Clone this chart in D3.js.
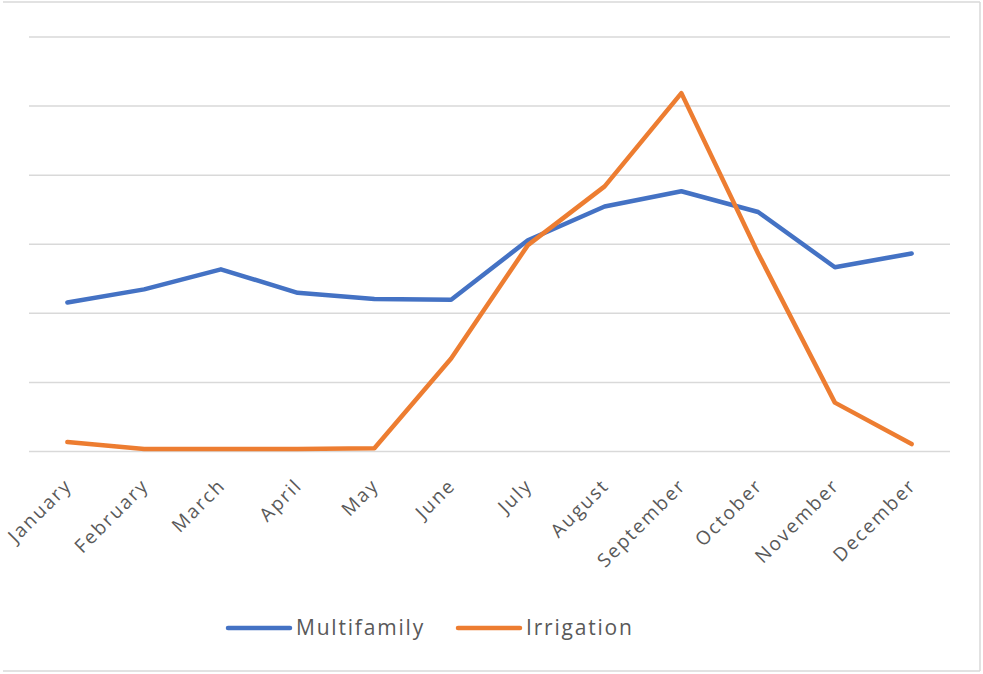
<!DOCTYPE html>
<html>
<head>
<meta charset="utf-8">
<script src="https://cdn.jsdelivr.net/npm/d3@7"></script>
<style>
    body { margin: 0; background: #fff; }
    svg { display: block; }
    .grid line { stroke: #d9d9d9; stroke-width: 1.5; }
    .xaxis text { fill: #595959; font-family: "Open Sans", sans-serif; font-size: 19px; letter-spacing: 2px; }
    .legend text { fill: #595959; font-family: "Open Sans", sans-serif; font-size: 21px; letter-spacing: 1.8px; }
</style>
</head>
<body>
<svg id="chart"></svg>
<script>
// Data (the y axis has no labels, gridlines are 1 unit apart)
const months = ['January', 'February', 'March', 'April', 'May', 'June',
    'July', 'August', 'September', 'October', 'November', 'December'];
const multifamily = [2.15, 2.34, 2.63, 2.29, 2.2, 2.19, 3.05, 3.54, 3.76, 3.46, 2.66, 2.86];
const irrigation = [0.13, 0.03, 0.03, 0.03, 0.04, 1.34, 2.98, 3.83, 5.18, 2.86, 0.7, 0.1];
const seriesNames = ['Multifamily', 'Irrigation'];
const seriesColors = ['#4472c4', '#ed7d31'];
const yTicks = [0, 1, 2, 3, 4, 5, 6];

const width = 983;
const height = 674;

const svg = d3.select('#chart')
    .attr('width', width)
    .attr('height', height);

// Light frame round the chart area (left edge is not visible in the original)
const frame = svg.append('g').attr('stroke', '#d9d9d9').attr('stroke-width', 1.5);
frame.append('line').attr('x1', 3).attr('x2', 980).attr('y1', 2).attr('y2', 2);
frame.append('line').attr('x1', 980).attr('x2', 980).attr('y1', 2).attr('y2', 671);
frame.append('line').attr('x1', 3).attr('x2', 980).attr('y1', 671).attr('y2', 671);

const x = d3.scaleBand()
    .domain(months)
    .range([29, 950]);

const y = d3.scaleLinear()
    .domain([0, 6])
    .range([451, 36.5]);

// Horizontal gridlines
const grid = svg.append('g')
    .attr('class', 'grid')
    .attr('transform', `translate(${x.range()[0]},0)`)
    .call(d3.axisLeft(y)
        .tickValues(yTicks)
        .tickSize(-(x.range()[1] - x.range()[0]))
        .tickFormat(''));
grid.select('.domain').remove();

// Month labels, rotated
const xAxis = svg.append('g')
    .attr('class', 'xaxis')
    .attr('transform', 'translate(0,451)')
    .call(d3.axisBottom(x).tickSize(0));
xAxis.select('.domain').remove();
xAxis.selectAll('text')
    .attr('text-anchor', 'end')
    .attr('x', 0)
    .attr('y', 0)
    .attr('dy', '0.35em')
    .attr('transform', 'translate(1,31) rotate(-45)');
xAxis.attr('font-family', null).attr('font-size', null);

// Lines
const line = d3.line()
    .x((d, i) => x(months[i]) + x.bandwidth() / 2)
    .y(d => y(d));

[multifamily, irrigation].forEach((values, i) => {
    svg.append('path')
        .datum(values)
        .attr('fill', 'none')
        .attr('stroke', seriesColors[i])
        .attr('stroke-width', 4.5)
        .attr('stroke-linejoin', 'round')
        .attr('stroke-linecap', 'round')
        .attr('d', line);
});

// Legend
const legend = svg.append('g').attr('class', 'legend');
const legendX = [228, 458];
seriesNames.forEach((name, i) => {
    const g = legend.append('g').attr('transform', `translate(${legendX[i]},628)`);
    g.append('line')
        .attr('x1', 0).attr('x2', 62)
        .attr('stroke', seriesColors[i])
        .attr('stroke-width', 4.5)
        .attr('stroke-linecap', 'round');
    g.append('text')
        .attr('x', 68)
        .attr('y', 7)
        .text(name);
});
</script>
</body>
</html>
